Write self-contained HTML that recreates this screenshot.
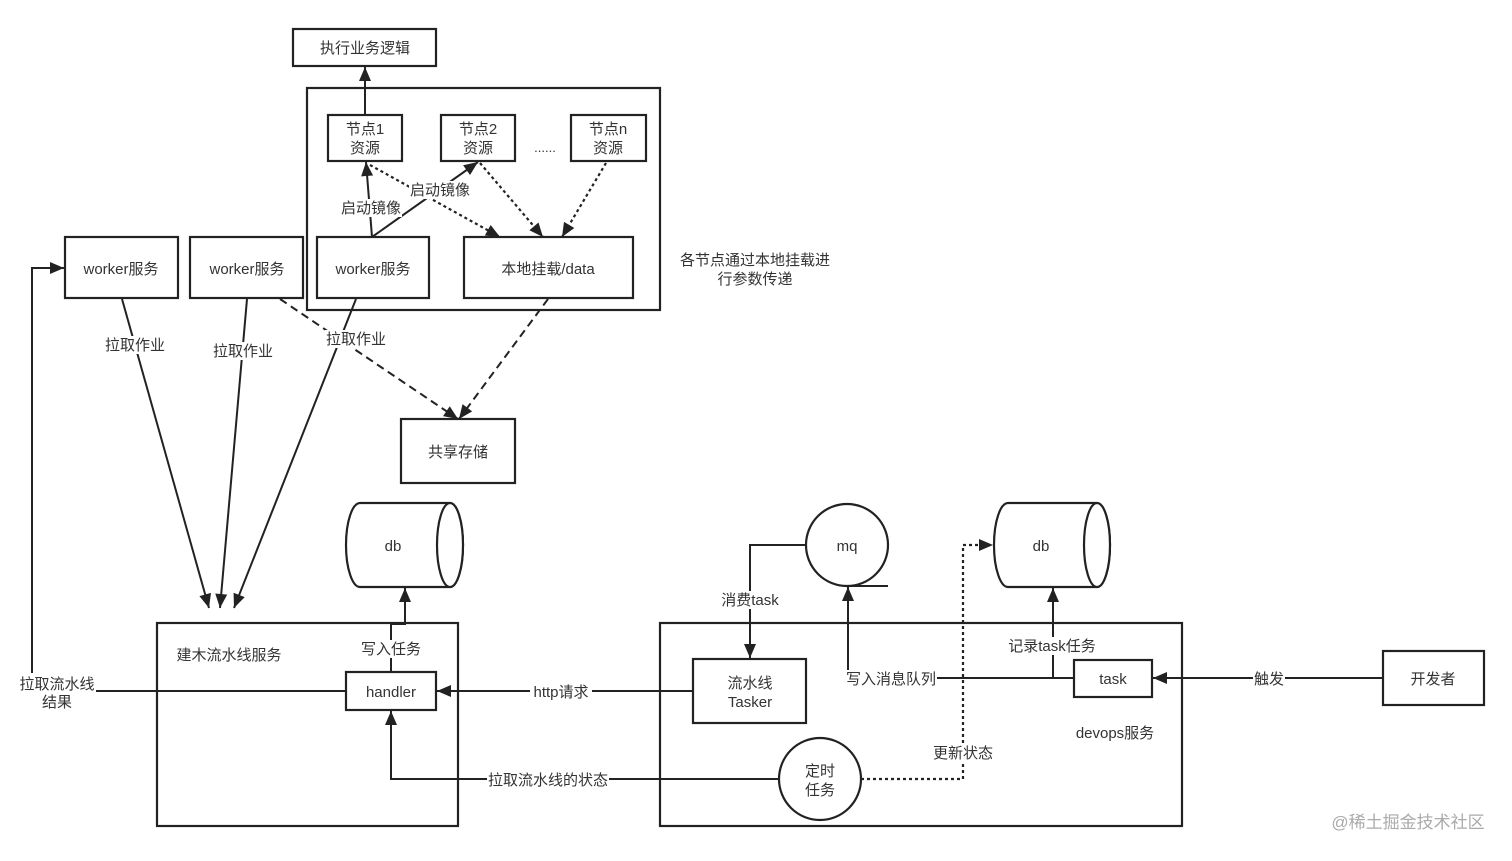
<!DOCTYPE html>
<html><head><meta charset="utf-8"><style>
html,body{margin:0;padding:0;background:#fff;}
svg text{font-family:"Liberation Sans","Noto Sans CJK SC",sans-serif;font-size:15px;fill:#333;}
</style></head><body>
<svg width="1512" height="856" viewBox="0 0 1512 856" xmlns="http://www.w3.org/2000/svg">
<defs>
<marker id="a" markerWidth="20" markerHeight="20" refX="0" refY="0" orient="auto" markerUnits="userSpaceOnUse" style="overflow:visible">
<path d="M-14,-6 L0,0 L-14,6 z" fill="#222"/>
</marker>
</defs>
<style>.b{fill:#fff;stroke:#222;stroke-width:2.2}.l{fill:none;stroke:#222;stroke-width:2}.d{fill:none;stroke:#222;stroke-width:2.2;stroke-dasharray:3 3}.ds{fill:none;stroke:#222;stroke-width:2;stroke-dasharray:8 5}</style>

<rect class="b" x="293" y="29" width="143" height="37"/>
<text x="365" y="53" text-anchor="middle">执行业务逻辑</text>
<rect class="b" x="307" y="88" width="353" height="222"/>
<rect class="b" x="328" y="115" width="74" height="46"/>
<text x="365" y="134" text-anchor="middle">节点1</text><text x="365" y="153" text-anchor="middle">资源</text>
<rect class="b" x="441" y="115" width="74" height="46"/>
<text x="478" y="134" text-anchor="middle">节点2</text><text x="478" y="153" text-anchor="middle">资源</text>
<rect class="b" x="571" y="115" width="75" height="46"/>
<text x="608" y="134" text-anchor="middle">节点n</text><text x="608" y="153" text-anchor="middle">资源</text>
<text x="545" y="152" text-anchor="middle" style="font-size:13px">......</text>
<rect class="b" x="317" y="237" width="112" height="61"/>
<text x="373" y="274" text-anchor="middle">worker服务</text>
<rect class="b" x="464" y="237" width="169" height="61"/>
<text x="548" y="274" text-anchor="middle">本地挂载/data</text>
<rect class="b" x="65" y="237" width="113" height="61"/>
<text x="121" y="274" text-anchor="middle">worker服务</text>
<rect class="b" x="190" y="237" width="113" height="61"/>
<text x="247" y="274" text-anchor="middle">worker服务</text>
<text x="755" y="265" text-anchor="middle">各节点通过本地挂载进</text>
<text x="755" y="284" text-anchor="middle">行参数传递</text>
<rect class="b" x="401" y="419" width="114" height="64"/>
<text x="458" y="457" text-anchor="middle">共享存储</text>

<line class="l" x1="365" y1="115" x2="365" y2="67" marker-end="url(#a)"/>
<line class="l" x1="372" y1="237" x2="366" y2="162" marker-end="url(#a)"/>
<line class="l" x1="372" y1="237" x2="478" y2="162" marker-end="url(#a)"/>
<line class="d" x1="370" y1="165" x2="500" y2="237" marker-end="url(#a)"/>
<line class="d" x1="480" y1="163" x2="543" y2="237" marker-end="url(#a)"/>
<line class="d" x1="606" y1="163" x2="562" y2="237" marker-end="url(#a)"/>
<rect x="340" y="199" width="62" height="18" fill="#fff"/>
<text x="371" y="213" text-anchor="middle">启动镜像</text>
<rect x="409" y="181" width="62" height="18" fill="#fff"/>
<text x="440" y="195" text-anchor="middle">启动镜像</text>

<line class="l" x1="122" y1="299" x2="209" y2="608" marker-end="url(#a)"/>
<line class="l" x1="247" y1="299" x2="220" y2="608" marker-end="url(#a)"/>
<line class="l" x1="356" y1="299" x2="234" y2="608" marker-end="url(#a)"/>
<line class="ds" x1="280" y1="299" x2="458" y2="419" marker-end="url(#a)"/>
<line class="ds" x1="548" y1="299" x2="459" y2="419" marker-end="url(#a)"/>
<rect x="104" y="336" width="62" height="18" fill="#fff"/><text x="135" y="350" text-anchor="middle">拉取作业</text>
<rect x="212" y="342" width="62" height="18" fill="#fff"/><text x="243" y="356" text-anchor="middle">拉取作业</text>
<rect x="325" y="330" width="62" height="18" fill="#fff"/><text x="356" y="344" text-anchor="middle">拉取作业</text>

<rect class="b" x="157" y="623" width="301" height="203"/>
<text x="229" y="660" text-anchor="middle">建木流水线服务</text>
<path class="b" d="M360,503 L450,503 A13,42 0 0 1 450,587 L360,587 A14,42 0 0 1 360,503 z"/>
<ellipse class="b" cx="450" cy="545" rx="13" ry="42"/>
<text x="393" y="551" text-anchor="middle">db</text>
<rect class="b" x="346" y="672" width="90" height="38"/>
<text x="391" y="697" text-anchor="middle">handler</text>
<path class="l" d="M391,672 L391,624 L405,624 L405,588" marker-end="url(#a)"/>
<rect x="360" y="640" width="62" height="18" fill="#fff"/><text x="391" y="654" text-anchor="middle">写入任务</text>
<path class="l" d="M346,691 L32,691 L32,268 L64,268" marker-end="url(#a)"/>
<rect x="18" y="673" width="78" height="38" fill="#fff"/>
<text x="57" y="689" text-anchor="middle">拉取流水线</text><text x="57" y="707" text-anchor="middle">结果</text>

<rect class="b" x="660" y="623" width="522" height="203"/>
<text x="1115" y="738" text-anchor="middle">devops服务</text>
<path class="b" d="M1008,503 L1097,503 A13,42 0 0 1 1097,587 L1008,587 A14,42 0 0 1 1008,503 z"/>
<ellipse class="b" cx="1097" cy="545" rx="13" ry="42"/>
<text x="1041" y="551" text-anchor="middle">db</text>
<circle class="b" cx="847" cy="545" r="41"/>
<line class="l" x1="847" y1="586" x2="888" y2="586"/>
<text x="847" y="551" text-anchor="middle">mq</text>
<rect class="b" x="693" y="659" width="113" height="64"/>
<text x="750" y="688" text-anchor="middle">流水线</text><text x="750" y="707" text-anchor="middle">Tasker</text>
<rect class="b" x="1074" y="660" width="78" height="37"/>
<text x="1113" y="684" text-anchor="middle">task</text>
<circle class="b" cx="820" cy="779" r="41"/>
<text x="820" y="776" text-anchor="middle">定时</text><text x="820" y="795" text-anchor="middle">任务</text>
<rect class="b" x="1383" y="651" width="101" height="54"/>
<text x="1433" y="684" text-anchor="middle">开发者</text>

<line class="l" x1="693" y1="691" x2="437" y2="691" marker-end="url(#a)"/>
<rect x="530" y="683" width="62" height="18" fill="#fff"/><text x="561" y="697" text-anchor="middle">http请求</text>
<path class="l" d="M779,779 L391,779 L391,711" marker-end="url(#a)"/>
<rect x="487" y="771" width="122" height="18" fill="#fff"/><text x="548" y="785" text-anchor="middle">拉取流水线的状态</text>
<path class="d" d="M861,779 L963,779 L963,545 L993,545" marker-end="url(#a)"/>
<rect x="932" y="744" width="62" height="18" fill="#fff"/><text x="963" y="758" text-anchor="middle">更新状态</text>
<path class="l" d="M806,545 L750,545 L750,658" marker-end="url(#a)"/>
<rect x="719" y="591" width="62" height="18" fill="#fff"/><text x="750" y="605" text-anchor="middle">消费task</text>
<path class="l" d="M1074,678 L848,678 L848,587" marker-end="url(#a)"/>
<path class="l" d="M1053,678 L1053,588" marker-end="url(#a)"/>
<rect x="845" y="670" width="92" height="18" fill="#fff"/><text x="891" y="684" text-anchor="middle">写入消息队列</text>
<rect x="1006" y="637" width="92" height="18" fill="#fff"/><text x="1052" y="651" text-anchor="middle">记录task任务</text>
<line class="l" x1="1383" y1="678" x2="1153" y2="678" marker-end="url(#a)"/>
<rect x="1253" y="670" width="32" height="18" fill="#fff"/><text x="1269" y="684" text-anchor="middle">触发</text>

<text x="1408" y="828" text-anchor="middle" style="font-size:17px;fill:#aaa">@稀土掘金技术社区</text>
</svg>
</body></html>
